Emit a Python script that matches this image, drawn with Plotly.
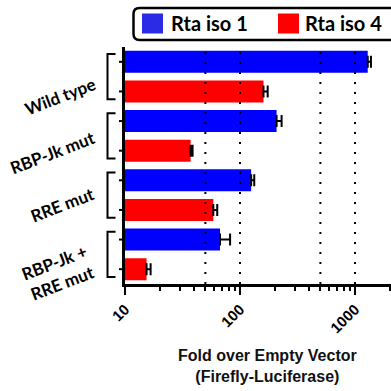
import plotly.graph_objects as go

conditions = ["Wild type", "RBP-Jk mut", "RRE mut", "RBP-Jk +<br>RRE mut"]
series_names = ["Rta iso 1", "Rta iso 4"]
iso1 = [1290, 208, 125, 67]
iso1_err = [86, 22, 8, 15]
iso4 = [160, 37.2, 58.6, 15.4]
iso4_err = [14, 1.5, 4.8, 1.3]
grid_values = [50, 100, 500, 1000]
x_ticks = [10, 100, 1000]
x_minor = [20, 30, 40, 50, 60, 70, 80, 90, 200, 300, 400, 500, 600, 700, 800, 900, 2000]
x_title = "Fold over Empty Vector<br>(Firefly-Luciferase)"

BLUE = "#0000FF"
RED = "#FF0000"

# plot area in pixels
L, R, T, B = 125, 391, 47, 284
W, H = R - L, B - T


def px(x):
    return (x - L) / W


def py(y):
    return (B - y) / H


fig = go.Figure()
for name, vals, errs, col in [(series_names[0], iso1, iso1_err, BLUE),
                              (series_names[1], iso4, iso4_err, RED)]:
    fig.add_trace(go.Bar(
        y=list(range(len(conditions))), x=vals, orientation="h", name=name,
        marker=dict(color=col, line=dict(width=0)),
        error_x=dict(type="data", symmetric=False, array=errs,
                     arrayminus=[0] * len(errs), color="black",
                     thickness=2, width=6),
        showlegend=False, hoverinfo="skip",
    ))

shapes = []
# dotted reference lines
for g in grid_values:
    shapes.append(dict(type="line", xref="x", yref="paper", x0=g, x1=g, y0=0, y1=1,
                       line=dict(color="black", width=2, dash="2px,8px"), layer="above"))
# y ticks at bar centres and brackets
for i in range(len(conditions)):
    for off in (-0.25, 0.25):
        shapes.append(dict(type="line", xref="paper", yref="y", x0=px(119), x1=px(125),
                           y0=i + off, y1=i + off, line=dict(color="black", width=2)))
    x_in, x_out = px(115.5), px(107.5)
    y0, y1 = i - 0.38, i + 0.38
    shapes.append(dict(type="path", xref="paper", yref="y",
                       path=f"M {x_in},{y0} L {x_out},{y0} L {x_out},{y1} L {x_in},{y1}",
                       line=dict(color="black", width=2)))

# legend box (rounded)
lx0, lx1, ly0, ly1 = px(133.5), px(398), py(40), py(8)
rx, ry = 6 / W, 6 / H
shapes.append(dict(type="path", xref="paper", yref="paper",
                   path=(f"M {lx0+rx},{ly1} L {lx1-rx},{ly1} Q {lx1},{ly1} {lx1},{ly1-ry} "
                         f"L {lx1},{ly0+ry} Q {lx1},{ly0} {lx1-rx},{ly0} L {lx0+rx},{ly0} "
                         f"Q {lx0},{ly0} {lx0},{ly0+ry} L {lx0},{ly1-ry} Q {lx0},{ly1} {lx0+rx},{ly1} Z"),
                   line=dict(color="black", width=2.5), fillcolor="white"))
for x0, col in [(142, "#2B2BE6"), (278, RED)]:
    shapes.append(dict(type="rect", xref="paper", yref="paper",
                       x0=px(x0), x1=px(x0 + 21), y0=py(33.5), y1=py(13.5),
                       line=dict(width=0), fillcolor=col))

annotations = []
for x0, name in [(169, series_names[0]), (303, series_names[1])]:
    annotations.append(dict(xref="paper", yref="paper", x=px(x0), y=py(23.5),
                            xanchor="left", yanchor="middle", text=f"<b>{name}</b>",
                            showarrow=False,
                            font=dict(family="Lato", size=20, color="black")))

label_shift = [-19.5, -16.5, -9, -18]
for i, (c, s) in enumerate(zip(conditions, label_shift)):
    annotations.append(dict(xref="paper", yref="y", x=px(100.5), y=i, yshift=s,
                            xanchor="right", yanchor="middle", text=f"<b>{c}</b>",
                            textangle=-21, showarrow=False, align="center",
                            font=dict(family="Lato", size=17, color="black")))

annotations.append(dict(xref="paper", yref="paper", x=px(267), y=py(366),
                        xanchor="center", yanchor="middle", text=f"<b>{x_title}</b>",
                        showarrow=False, align="center",
                        font=dict(family="Liberation Sans", size=16, color="#111")))

fig.update_layout(
    width=391, height=391,
    margin=dict(l=L, r=391 - R, t=T, b=391 - B),
    paper_bgcolor="white", plot_bgcolor="white",
    barmode="group", bargap=0, bargroupgap=0.26,
    shapes=shapes, annotations=annotations, hovermode=False,
    xaxis=dict(type="log", range=[1, 3.313], tickmode="array", tickvals=x_ticks,
               ticktext=[str(v) for v in x_ticks], tickangle=-45,
               ticks="outside", ticklen=8, tickwidth=2, tickcolor="black",
               tickfont=dict(family="Liberation Sans", size=15, color="black", weight="bold"),
               showline=True, linecolor="black", linewidth=2.5, showgrid=False,
               zeroline=False,
               minor=dict(tickmode="array", tickvals=x_minor, ticks="outside",
                          ticklen=4, tickwidth=2, tickcolor="black", showgrid=False)),
    yaxis=dict(range=[len(conditions) - 0.5, -0.5], showticklabels=False, ticks="",
               showline=True, linecolor="black", linewidth=2.5, showgrid=False,
               zeroline=False),
)

fig.write_html("out.html", config={"displayModeBar": False},
               post_script="document.body.style.margin='0px';document.body.style.overflow='hidden';")
